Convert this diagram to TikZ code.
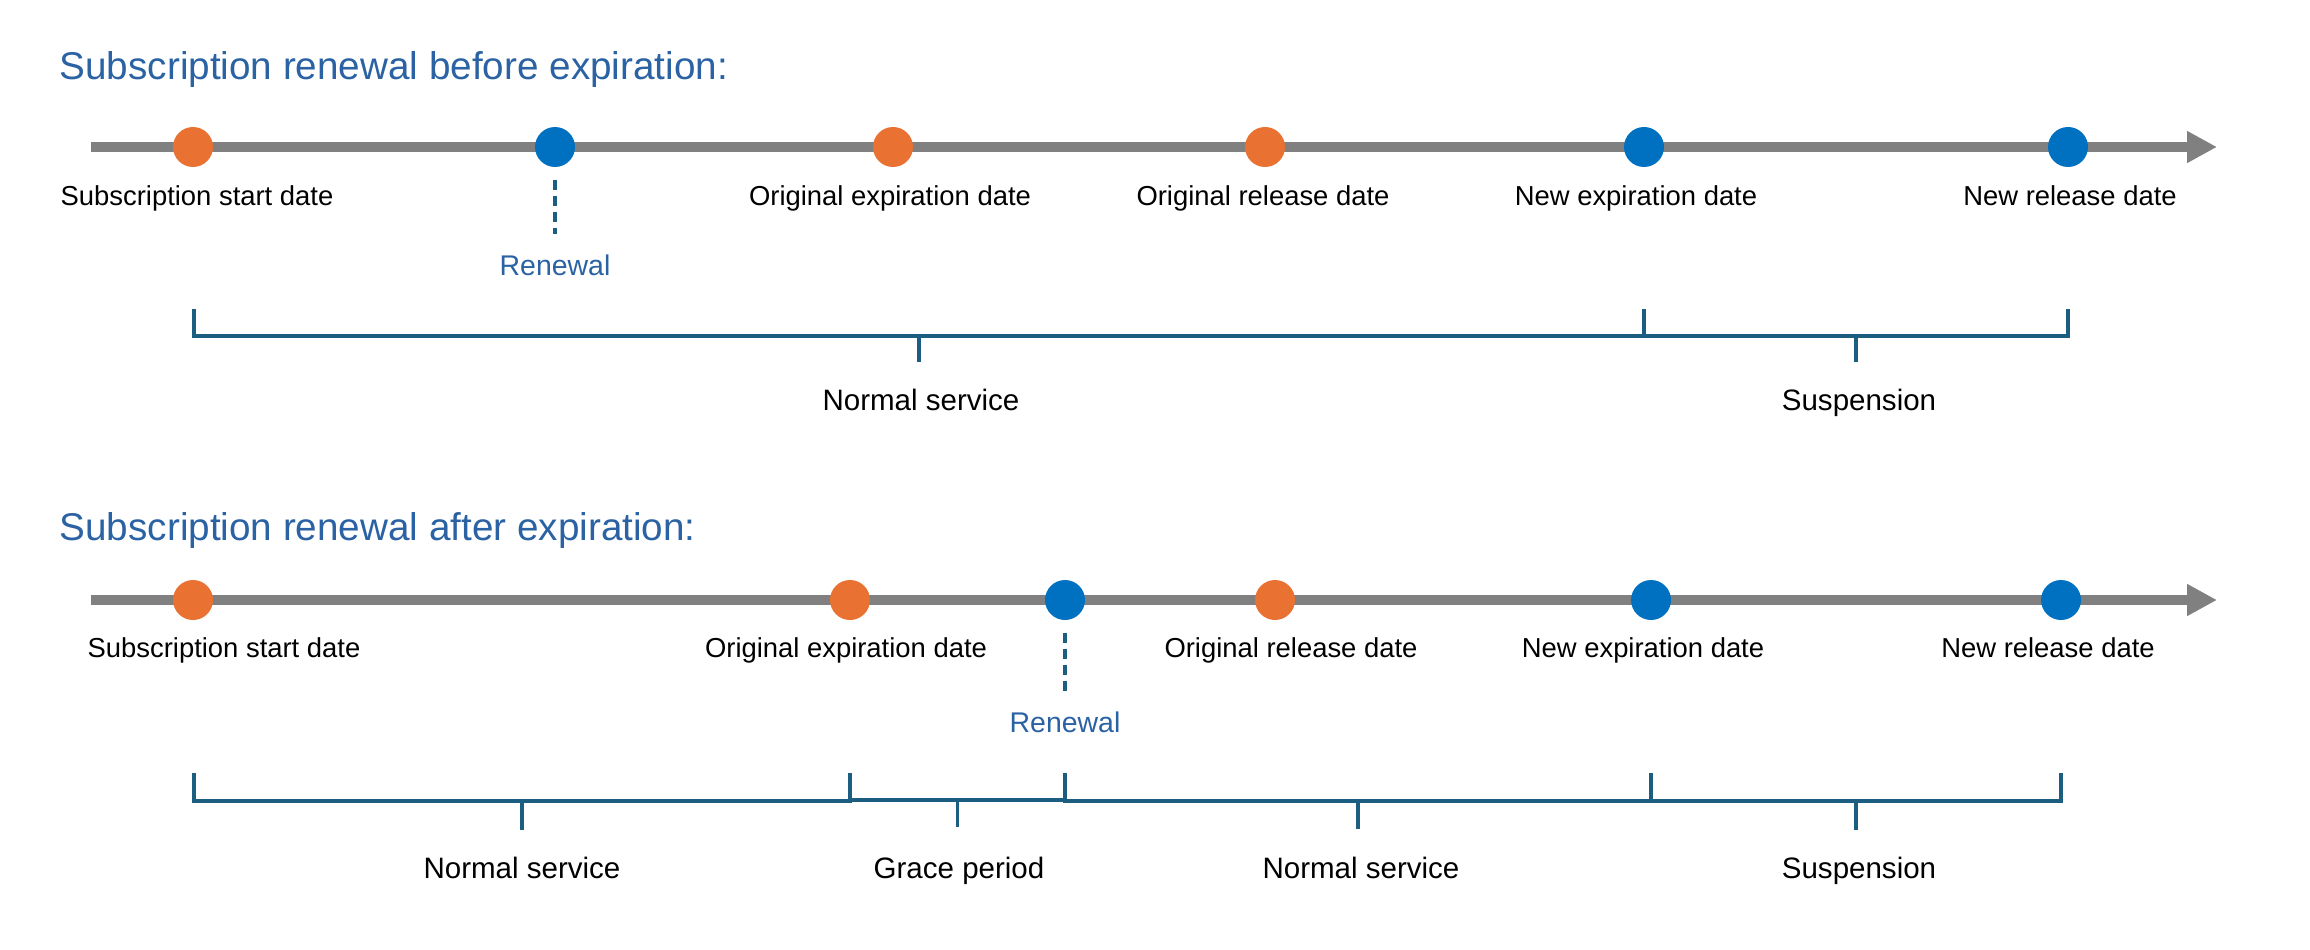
\documentclass[tikz,border=0pt]{standalone}
\usepackage{fontspec}
\setmainfont{Liberation Sans}
\usetikzlibrary{arrows.meta}
\definecolor{axisgray}{HTML}{808080}
\definecolor{dotorange}{HTML}{E97132}
\definecolor{dotblue}{HTML}{0070C0}
\definecolor{titleblue}{HTML}{2A62A3}
\definecolor{spanblue}{HTML}{1B5E82}

\begin{document}
\begin{tikzpicture}[x=1cm, y=1cm,
  odot/.style={circle, fill=dotorange, minimum size=0.4cm, inner sep=0pt},
  bdot/.style={circle, fill=dotblue, minimum size=0.4cm, inner sep=0pt},
  heading/.style={anchor=west, inner sep=0pt, text=titleblue, font=\fontsize{11}{13}\selectfont},
  datelbl/.style={anchor=base, inner sep=0pt, font=\fontsize{7.8}{9}\selectfont},
  renlbl/.style={anchor=base, inner sep=0pt, text=titleblue, font=\fontsize{8.1}{10}\selectfont},
  spanlbl/.style={anchor=base, inner sep=0pt, font=\fontsize{8.4}{10}\selectfont},
  axis/.style={draw=axisgray, line width=0.1cm, -{Triangle[length=0.3cm, width=0.3cm]}},
  spanline/.style={draw=spanblue, line width=1pt},
  renline/.style={draw=spanblue, line width=1pt, dash pattern=on 0.1cm off 0.06cm,
    shorten <=0.12cm, shorten >=0.2cm}]
  \useasboundingbox (0,0) rectangle (23.1,-9.5);

  % Before expiration
  \node[heading] (h1) at (0.59,-0.70) {Subscription renewal before expiration:};
  \draw[axis] (0.91,-1.47) -- (22.17,-1.47);
  \node[odot] (a1) at (1.93,-1.47) {};
  \node[bdot] (a2) at (5.55,-1.47) {};
  \node[odot] (a3) at (8.93,-1.47) {};
  \node[odot] (a4) at (12.65,-1.47) {};
  \node[bdot] (a5) at (16.44,-1.47) {};
  \node[bdot] (a6) at (20.68,-1.47) {};
  \node[datelbl] (la1) at (1.97,-2.06) {Subscription start date};
  \node[datelbl] (la3) at (8.90,-2.06) {Original expiration date};
  \node[datelbl] (la4) at (12.63,-2.06) {Original release date};
  \node[datelbl] (la5) at (16.36,-2.06) {New expiration date};
  \node[datelbl] (la6) at (20.70,-2.06) {New release date};
  % Renewal
  \node[renlbl] (ra) at (5.55,-2.75) {Renewal};
  \draw[renline] (a2) -- (ra);
  % Normal service
  \draw[spanline] (1.94,-3.09) -- ++(0,-0.27) -- ++(14.50,0) -- ++(0,0.27);
  \draw[spanline] (9.19,-3.36) -- ++(0,-0.26);
  \node[spanlbl] (sa1) at (9.21,-4.10) {Normal service};
  % Suspension
  \draw[spanline] (16.44,-3.09) -- ++(0,-0.27) -- ++(4.24,0) -- ++(0,0.27);
  \draw[spanline] (18.56,-3.36) -- ++(0,-0.26);
  \node[spanlbl] (sa2) at (18.59,-4.10) {Suspension};

  % After expiration
  \node[heading] (h2) at (0.59,-5.30) {Subscription renewal after expiration:};
  \draw[axis] (0.91,-6.00) -- (22.17,-6.00);
  \node[odot] (b1) at (1.93,-6.00) {};
  \node[odot] (b2) at (8.50,-6.00) {};
  \node[bdot] (b3) at (10.65,-6.00) {};
  \node[odot] (b4) at (12.75,-6.00) {};
  \node[bdot] (b5) at (16.51,-6.00) {};
  \node[bdot] (b6) at (20.61,-6.00) {};
  \node[datelbl] (lb1) at (2.24,-6.57) {Subscription start date};
  \node[datelbl] (lb2) at (8.46,-6.57) {Original expiration date};
  \node[datelbl] (lb4) at (12.91,-6.57) {Original release date};
  \node[datelbl] (lb5) at (16.43,-6.57) {New expiration date};
  \node[datelbl] (lb6) at (20.48,-6.57) {New release date};
  % Renewal
  \node[renlbl] (rb) at (10.65,-7.32) {Renewal};
  \draw[renline] (b3) -- (rb);
  % Normal service
  \draw[spanline] (1.94,-7.73) -- ++(0,-0.28) -- ++(6.56,0) -- ++(0,0.28);
  \draw[spanline] (5.22,-8.01) -- ++(0,-0.29);
  \node[spanlbl] (sb1) at (5.22,-8.78) {Normal service};
  % Grace period
  \draw[spanline] (8.50,-7.73) -- ++(0,-0.27) -- ++(2.15,0) -- ++(0,0.27);
  \draw[spanline] (9.575,-8.00) -- ++(0,-0.27);
  \node[spanlbl] (sb2) at (9.59,-8.78) {Grace period};
  % Normal service
  \draw[spanline] (10.65,-7.73) -- ++(0,-0.28) -- ++(5.86,0) -- ++(0,0.28);
  \draw[spanline] (13.58,-8.01) -- ++(0,-0.28);
  \node[spanlbl] (sb3) at (13.61,-8.78) {Normal service};
  % Suspension
  \draw[spanline] (16.51,-7.73) -- ++(0,-0.28) -- ++(4.10,0) -- ++(0,0.28);
  \draw[spanline] (18.56,-8.01) -- ++(0,-0.29);
  \node[spanlbl] (sb4) at (18.59,-8.78) {Suspension};
\end{tikzpicture}
\end{document}
